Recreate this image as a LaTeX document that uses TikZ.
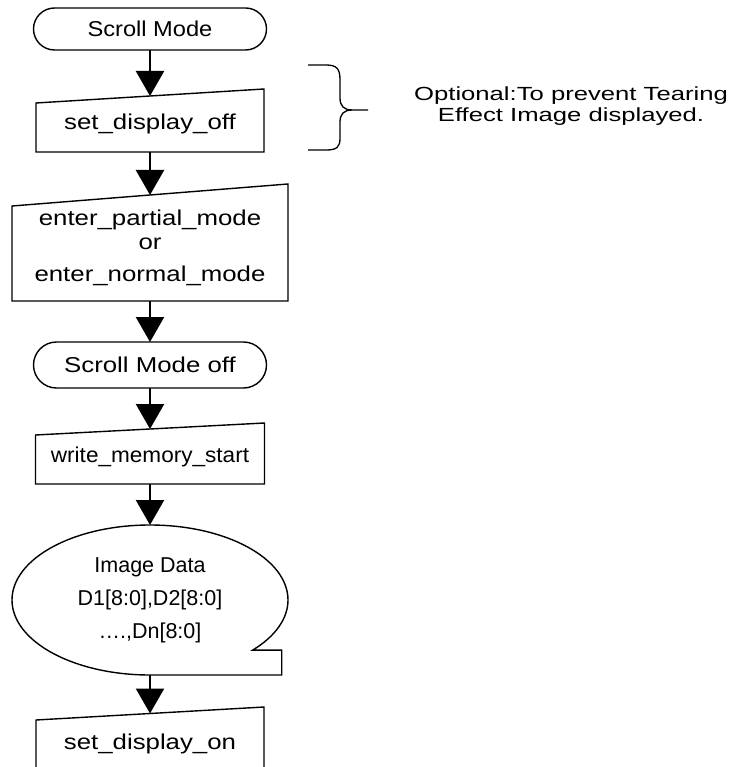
\documentclass[tikz,border=0pt]{standalone}
\usepackage{fontspec}
\setmainfont{Liberation Sans}
\newfontfamily\wideface[FakeStretch=1.2]{Liberation Sans}
\newfontfamily\midface[FakeStretch=1.1]{Liberation Sans}
\newfontfamily\lightface[FakeStretch=1.05]{Liberation Sans}
\newfontfamily\noteface[FakeStretch=1.35]{Liberation Sans}
\usetikzlibrary{arrows.meta,shapes.geometric,shapes.misc}

\begin{document}
\begin{tikzpicture}[x=1pt,y=-1pt,
  >={Triangle[width=28pt,length=25pt]},
  every node/.style={font=\fontsize{21.5}{32}\selectfont,inner sep=0pt,outer sep=0pt},
  terminal/.style={rounded rectangle,draw,line width=1.4pt,minimum width=233pt},
  manual/.style={rectangle,align=center},
  outline/.style={line width=1.4pt,line join=miter},
  flow/.style={->,line width=2.4pt}]
  \useasboundingbox (0,0) rectangle (734,767);
  \clip (0,0) rectangle (734,767);

  % Steps of the flow, top to bottom.
  \node[terminal,minimum height=42pt] (sm) at (150,29) {\midface Scroll Mode};
  \node[manual,minimum width=228pt,minimum height=56pt] (off) at (150,124) {\wideface set\_display\_off};
  \node[manual,minimum width=276pt,minimum height=106pt] (mode) at (150,248)
    {\wideface enter\_partial\_mode\\[-8pt]\wideface or\\\wideface enter\_normal\_mode};
  \node[terminal,minimum height=46pt] (smoff) at (150,365) {\wideface Scroll Mode off};
  \node[manual,minimum width=229pt,minimum height=55pt] (wms) at (150,456.5) {\lightface write\_memory\_start};
  \node[ellipse,minimum width=276pt,minimum height=150pt,align=center,
    font=\fontsize{21.5}{33}\selectfont] (img) at (150,600)
    {Image Data\\D1[8:0],D2[8:0]\\….,Dn[8:0]};
  \node[manual,minimum width=228pt,minimum height=60pt] (on) at (150,743.5) {\wideface set\_display\_on};

  % Manual input outlines (slanted top edge).
  \draw[outline] ([yshift=-7pt]off.north west) -- ([yshift=7pt]off.north east) -- (off.south east) -- (off.south west) -- cycle;
  \draw[outline] ([yshift=-11pt]mode.north west) -- ([yshift=11pt]mode.north east) -- (mode.south east) -- (mode.south west) -- cycle;
  \draw[outline] ([yshift=-6pt]wms.north west) -- ([yshift=6pt]wms.north east) -- (wms.south east) -- (wms.south west) -- cycle;
  \draw[outline] ([yshift=-6.5pt]on.north west) -- ([yshift=6.5pt]on.north east) -- (on.south east) -- (on.south west) -- cycle;

  % Sequential data symbol: ellipse with a tail at the lower right.
  \draw[outline] (img.south) arc[start angle=-90,end angle=-401.9,x radius=138pt,y radius=75pt]
    -- ++(29,0) |- (img.south);

  % Connectors.
  \draw[flow] (sm.south) -- (off.north);
  \draw[flow] (off.south) -- (mode.north);
  \draw[flow] (mode.south) -- (smoff.north);
  \draw[flow] (smoff.south) -- (wms.north);
  \draw[flow] (wms.south) -- (img.north);
  \draw[flow] (img.south) -- (on.north);

  % Brace and remark for the optional step.
  \draw[line width=1.3pt] (308,65) -- (326,65) .. controls (337,65) and (340,69) .. (340,80) -- (340,98)
    .. controls (340,106) and (344,110) .. (352,110) -- (368,110);
  \draw[line width=1.3pt] (352,110) .. controls (344,110) and (340,114) .. (340,122) -- (340,138)
    .. controls (340,147) and (337,150) .. (326,150) -- (308,150);
  \node[align=center,font=\fontsize{19}{21.5}\selectfont\noteface] (note) at (571,106)
    {Optional:To prevent Tearing\\Effect Image displayed.};
\end{tikzpicture}
\end{document}
